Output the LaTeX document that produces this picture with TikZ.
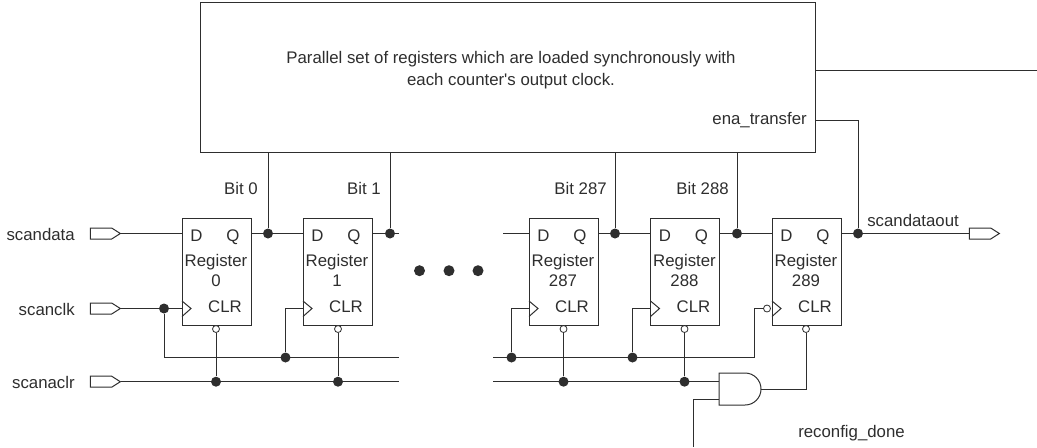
\documentclass[tikz,border=0pt]{standalone}
\usepackage{fontspec}
\setmainfont{Liberation Sans}
\newfontfamily\plainsans{Liberation Sans}
\usetikzlibrary{shapes.symbols}
\definecolor{ink}{HTML}{2E2E2E}
\tikzset{
  wire/.style={draw=ink,line width=0.75pt},
  regbox/.style={draw=ink,line width=0.75pt,minimum width=51.75pt,minimum height=80.25pt,inner sep=0pt},
  bigbox/.style={draw=ink,line width=0.75pt,minimum width=461.25pt,minimum height=112.5pt,inner sep=0pt},
  pin/.style={signal,signal to=east,signal from=nowhere,signal pointer angle=65,draw=ink,fill=white,line width=0.75pt,minimum width=22.5pt,minimum height=8.25pt,inner sep=0pt},
  jdot/.style={circle,fill=ink,minimum size=7.5pt,inner sep=0pt},
  bigdot/.style={circle,fill=ink,minimum size=8.25pt,inner sep=0pt},
  bub/.style={circle,draw=ink,fill=white,line width=0.6pt,minimum size=5.25pt,inner sep=0pt},
  lbl/.style={text=ink,font=\plainsans\fontsize{12.6}{14}\selectfont,inner sep=0pt},
}
\newcommand{\regbody}[6]{%
  \node[regbox] (#1) at (#2,271.5) {};
  \node[lbl,anchor=base] (#1d) at (#2-20,241.5) {D};
  \node[lbl,anchor=base] (#1q) at (#2+16.5,241.5) {Q};
  \node[lbl] (#1n) at (#2-0.5,261.7) {Register};
  \node[lbl] (#1m) at (#2-0.5,280.7) {#3};
  \node[lbl] (#1c) at (#2+8.5,307) {CLR};
  \draw[wire] (#2-34.5,301) -- (#2-25.5,308.5) -- (#2-34.5,316.5);
}
\begin{document}
\begin{tikzpicture}[x=0.75pt,y=-0.75pt]
\useasboundingbox (0,0) rectangle (1037,447);
% main box
\node[bigbox] (main) at (507.5,77) {};
\node[lbl,align=center] (mtext) at (511,70) {Parallel set of registers which are loaded synchronously with\\[2.5pt]each counter's output clock.};
\node[lbl,anchor=east] (ena) at (807,120) {ena\_transfer};
% registers
\regbody{r0}{216.5}{0}{}{}{}
\regbody{r1}{337.5}{1}{}{}{}
\regbody{ra}{563.5}{287}{}{}{}
\regbody{rb}{685}{288}{}{}{}
\regbody{rc}{806.5}{289}{}{}{}
% pins
\node[pin] (pd) at (101,233.5) {};
\node[pin] (pk) at (101,308.5) {};
\node[pin] (pc) at (101,381.7) {};
\node[pin] (po) at (980,233.5) {};
% pin labels
\node[lbl,anchor=east] (ld) at (75,234.5) {scandata};
\node[lbl,anchor=east] (lk) at (75,309.5) {scanclk};
\node[lbl,anchor=east] (lc) at (75,382.5) {scanaclr};
\node[lbl,anchor=west] (lo) at (867,220) {scandataout};
\node[lbl,anchor=west] (lr) at (798,433) {reconfig\_done};
\node[lbl,anchor=east] (b0) at (258,188) {Bit 0};
\node[lbl,anchor=east] (b1) at (381,188) {Bit 1};
\node[lbl,anchor=east] (b2) at (607,188) {Bit 287};
\node[lbl,anchor=east] (b3) at (729,188) {Bit 288};
% junctions
\node[jdot] (q0) at (268,233.5) {};
\node[jdot] (q1) at (390,233.5) {};
\node[jdot] (q2) at (615,233.5) {};
\node[jdot] (q3) at (737,233.5) {};
\node[jdot] (q4) at (858,233.5) {};
\node[jdot] (kk) at (164,308.5) {};
\node[jdot] (k1) at (285.5,357.5) {};
\node[jdot] (k2) at (511.5,357.5) {};
\node[jdot] (k3) at (632.5,357.5) {};
\node[jdot] (c0) at (216,381.7) {};
\node[jdot] (c1) at (338,381.7) {};
\node[jdot] (c2) at (563.5,381.7) {};
\node[jdot] (c3) at (684.5,381.7) {};
% ellipsis dots
\node[bigdot] (e1) at (419.5,270.7) {};
\node[bigdot] (e2) at (449,270.7) {};
\node[bigdot] (e3) at (478,270.7) {};
% free ends
\coordinate (qe) at (399,233.5);
\coordinate (ds) at (503,233.5);
\coordinate (ke) at (399,357.5);
\coordinate (ks) at (493,357.5);
\coordinate (ce) at (399,381.7);
\coordinate (cs) at (493,381.7);
\coordinate (out) at (1037,70.5);
\coordinate (kb) at (164,357.5);
\coordinate (kc) at (754,357.5);
\coordinate (en) at (858,120);
\coordinate (rcin) at (693,447);
% clear and clock bubbles
\node[bub] (cb0) at (216,329) {};
\node[bub] (cb1) at (338,329) {};
\node[bub] (cb2) at (563.5,329) {};
\node[bub] (cb3) at (684.5,329) {};
\node[bub] (cb4) at (806,329) {};
\node[bub] (kb4) at (767,308.5) {};
% and gate
\draw[wire] (719,373) coordinate (ga) -- (745,373) arc[start angle=-90,end angle=90,radius=16] -- (719,405) coordinate (gb) -- cycle;
\coordinate (and1) at (719,381.7);
\coordinate (and2) at (719,399);
\coordinate (ando) at (761,389);
% wires
\draw[wire] (main.east |- out) -- (out);
\draw[wire] (main.east |- en) -- (en) -- (q4);
\draw[wire] (main.south -| q0) -- (q0);
\draw[wire] (main.south -| q1) -- (q1);
\draw[wire] (main.south -| q2) -- (q2);
\draw[wire] (main.south -| q3) -- (q3);
\draw[wire] (pd.east) -- (r0.west |- pd.east);
\draw[wire] (r0.east |- q0) -- (q0) -- (r1.west |- q0);
\draw[wire] (r1.east |- q1) -- (qe);
\draw[wire] (ds) -- (ra.west |- ds);
\draw[wire] (ra.east |- q2) -- (q2) -- (rb.west |- q2);
\draw[wire] (rb.east |- q3) -- (q3) -- (rc.west |- q3);
\draw[wire] (rc.east |- q4) -- (q4) -- (po.west);
\draw[wire] (pk.east) -- (r0.west |- pk.east);
\draw[wire] (kk) -- (kb) -- (ke);
\draw[wire] (ks) -- (kc) -- (kc |- kb4) -- (kb4);
\draw[wire] (k1) -- (k1 |- kk) -- (r1.west |- kk);
\draw[wire] (k2) -- (k2 |- kk) -- (ra.west |- kk);
\draw[wire] (k3) -- (k3 |- kk) -- (rb.west |- kk);
\draw[wire] (pc.east) -- (ce);
\draw[wire] (cs) -- (and1);
\draw[wire] (cb0) -- (c0);
\draw[wire] (cb1) -- (c1);
\draw[wire] (cb2) -- (c2);
\draw[wire] (cb3) -- (c3);
\draw[wire] (ando) -| (cb4);
\draw[wire] (rcin) |- (and2);
\end{tikzpicture}
\end{document}
